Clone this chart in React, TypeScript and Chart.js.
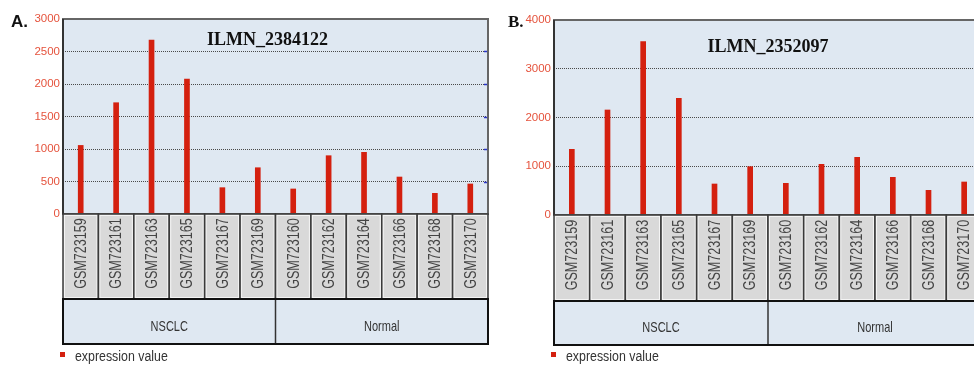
import React, { useEffect, useRef } from 'react';
import { Chart, registerables } from 'chart.js';

Chart.register(...registerables);

const samples = [
  'GSM723159', 'GSM723161', 'GSM723163', 'GSM723165', 'GSM723167', 'GSM723169',
  'GSM723160', 'GSM723162', 'GSM723164', 'GSM723166', 'GSM723168', 'GSM723170',
];
const groupNames = ['NSCLC', 'Normal'];
const groupSizes = [6, 6];
const valuesA = [1055, 1712, 2677, 2077, 405, 712, 385, 897, 949, 569, 318, 462];
const valuesB = [1347, 2154, 3555, 2393, 636, 991, 650, 1040, 1183, 773, 506, 677];
const titleA = 'ILMN_2384122';
const titleB = 'ILMN_2352097';
const yMaxA = 3000;
const yStepA = 500;
const yMaxB = 4000;
const yStepB = 1000;
const legendLabel = 'expression value';

const H = 365;

type PanelProps = {
  left: number;
  width: number;
  values: number[];
  yMax: number;
  yStep: number;
  title: string;
  titleDx: number;
  titleY: number;
  panelLabel: string;
  panelLabelFont: string;
  panelLabelX: number;
  areaLeft: number;
  areaRight: number;
  areaTop: number;
  areaBottom: number;
  labelBottom: number;
  groupBottom: number;
};

function Panel(p: PanelProps) {
  const ref = useRef<HTMLCanvasElement | null>(null);
  useEffect(() => {
    const canvas = ref.current;
    if (!canvas) return;
    const decor = {
      id: 'decor',
      beforeDraw(chart: any) {
        const { ctx, chartArea: a } = chart;
        ctx.save();
        ctx.fillStyle = '#dfe8f2';
        ctx.fillRect(a.left, a.top, a.right - a.left, a.bottom - a.top);
        ctx.restore();
      },
      afterDraw(chart: any) {
        const { ctx, chartArea: a } = chart;
        const xs = chart.scales.x;
        const ys = chart.scales.y;
        const n = samples.length;
        const cw = (xs.right - xs.left) / n;
        ctx.save();
        // plot border
        ctx.strokeStyle = '#666';
        ctx.lineWidth = 2;
        ctx.strokeRect(a.left, a.top, a.right - a.left, a.bottom - a.top);
        ctx.strokeStyle = '#333';
        ctx.beginPath();
        ctx.moveTo(a.left, a.top);
        ctx.lineTo(a.left, a.bottom);
        ctx.stroke();
        // blue ticks on right
        ctx.strokeStyle = '#2a35c8';
        ctx.lineWidth = 1.5;
        ys.ticks.forEach((t: any) => {
          const y = Math.round(ys.getPixelForValue(t.value)) + 0.5;
          if (y < a.top + 3 || y > a.bottom - 3) return;
          ctx.beginPath();
          ctx.moveTo(a.right - 4, y);
          ctx.lineTo(a.right - 1, y);
          ctx.stroke();
        });
        // title
        ctx.fillStyle = '#111';
        ctx.font = 'bold 18px "Liberation Serif"';
        ctx.textAlign = 'center';
        ctx.textBaseline = 'middle';
        ctx.fillText(p.title, (a.left + a.right) / 2 + p.titleDx, p.titleY);
        // panel label
        ctx.font = p.panelLabelFont;
        ctx.textAlign = 'left';
        ctx.textBaseline = 'alphabetic';
        ctx.fillText(p.panelLabel, p.panelLabelX, 27);
        // sample boxes
        for (let i = 0; i < n; i++) {
          const cx = xs.getPixelForValue(i);
          const x0 = cx - cw / 2;
          ctx.fillStyle = '#d9d9d9';
          ctx.fillRect(x0, a.bottom, cw, p.labelBottom - a.bottom);
          ctx.strokeStyle = '#f4f4f4';
          ctx.lineWidth = 1;
          ctx.strokeRect(x0 + 1.5, a.bottom + 1.5, cw - 3, p.labelBottom - a.bottom - 3);
          ctx.strokeStyle = '#3a3a3a';
          ctx.lineWidth = 1.5;
          ctx.strokeRect(x0, a.bottom, cw, p.labelBottom - a.bottom);
          ctx.save();
          ctx.translate(cx + 1, (a.bottom + p.labelBottom) / 2 - 3);
          ctx.rotate(-Math.PI / 2);
          ctx.scale(1.05, 1.3);
          ctx.fillStyle = '#444';
          ctx.font = '12px "Liberation Sans"';
          ctx.textAlign = 'center';
          ctx.textBaseline = 'middle';
          ctx.fillText(samples[i], 0, 0);
          ctx.restore();
        }
        // group boxes
        let start = 0;
        const gTop = p.labelBottom;
        const gH = p.groupBottom - gTop;
        ctx.fillStyle = '#dfe8f2';
        ctx.fillRect(xs.left, gTop, xs.right - xs.left, gH);
        groupNames.forEach((g, gi) => {
          const x0 = xs.left + start * cw;
          const x1 = xs.left + (start + groupSizes[gi]) * cw;
          if (gi > 0) {
            ctx.strokeStyle = '#333';
            ctx.lineWidth = 1.5;
            ctx.beginPath();
            ctx.moveTo(x0, gTop);
            ctx.lineTo(x0, p.groupBottom);
            ctx.stroke();
          }
          ctx.save();
          ctx.translate((x0 + x1) / 2, gTop + gH * 0.62);
          ctx.scale(1, 1.3);
          ctx.fillStyle = '#333';
          ctx.font = '11px "Liberation Sans"';
          ctx.textAlign = 'center';
          ctx.textBaseline = 'middle';
          ctx.fillText(g, 0, 0);
          ctx.restore();
          start += groupSizes[gi];
        });
        ctx.strokeStyle = '#111';
        ctx.lineWidth = 2;
        ctx.strokeRect(xs.left, gTop, xs.right - xs.left, gH);
        // legend
        ctx.fillStyle = '#d4200f';
        ctx.fillRect(a.left - 3, 352, 5, 5);
        ctx.save();
        ctx.translate(a.left + 12, 357);
        ctx.scale(1.03, 1.15);
        ctx.fillStyle = '#333';
        ctx.font = '12px "Liberation Sans"';
        ctx.textAlign = 'left';
        ctx.textBaseline = 'middle';
        ctx.fillText(legendLabel, 0, 0);
        ctx.restore();
        ctx.restore();
      },
    };
    const chart = new Chart(canvas, {
      type: 'bar',
      data: {
        labels: samples,
        datasets: [
          {
            label: legendLabel,
            data: p.values,
            backgroundColor: '#d4200f',
            borderWidth: 0,
            barThickness: 5,
          },
        ],
      },
      options: {
        responsive: false,
        animation: false,
        devicePixelRatio: 1,
        layout: {
          padding: { top: p.areaTop, right: p.width - p.areaRight, left: 0, bottom: 0 },
        },
        plugins: {
          legend: { display: false },
          tooltip: { enabled: false },
          title: { display: false },
        },
        scales: {
          x: {
            grid: { display: false },
            ticks: { display: false },
            border: { display: false },
            afterFit: (s: any) => {
              s.height = H - p.areaBottom;
            },
          },
          y: {
            min: 0,
            max: p.yMax,
            ticks: {
              stepSize: p.yStep,
              color: '#e5533d',
              font: { family: 'Liberation Sans', size: 11.5 },
              padding: 3,
              callback: (v: any) => String(v),
            },
            grid: { color: '#4a4a4a', drawTicks: false, lineWidth: 1 },
            border: { display: false, dash: [1, 1] },
            afterFit: (s: any) => {
              s.width = p.areaLeft;
            },
          },
        },
      },
      plugins: [decor],
    } as any);
    return () => chart.destroy();
  }, []);
  return (
    <canvas
      ref={ref}
      width={p.width}
      height={H}
      style={{ position: 'absolute', left: p.left, top: 0, width: p.width, height: H, display: 'block' }}
    />
  );
}

export default function App() {
  return (
    <div
      style={{
        position: 'fixed',
        left: 0,
        top: 0,
        width: 974,
        height: H,
        overflow: 'hidden',
        background: '#fff',
      }}
    >
      <Panel
        left={0}
        width={496}
        values={valuesA}
        yMax={yMaxA}
        yStep={yStepA}
        title={titleA}
        titleDx={-8}
        titleY={40}
        panelLabel="A."
        panelLabelFont='bold 17px "Liberation Sans"'
        panelLabelX={11}
        areaLeft={63}
        areaRight={488}
        areaTop={19}
        areaBottom={214}
        labelBottom={299}
        groupBottom={344}
      />
      <Panel
        left={496}
        width={492}
        values={valuesB}
        yMax={yMaxB}
        yStep={yStepB}
        title={titleB}
        titleDx={0}
        titleY={47}
        panelLabel="B."
        panelLabelFont='bold 17px "Liberation Serif"'
        panelLabelX={12}
        areaLeft={58}
        areaRight={486}
        areaTop={20}
        areaBottom={215}
        labelBottom={301}
        groupBottom={345}
      />
    </div>
  );
}
